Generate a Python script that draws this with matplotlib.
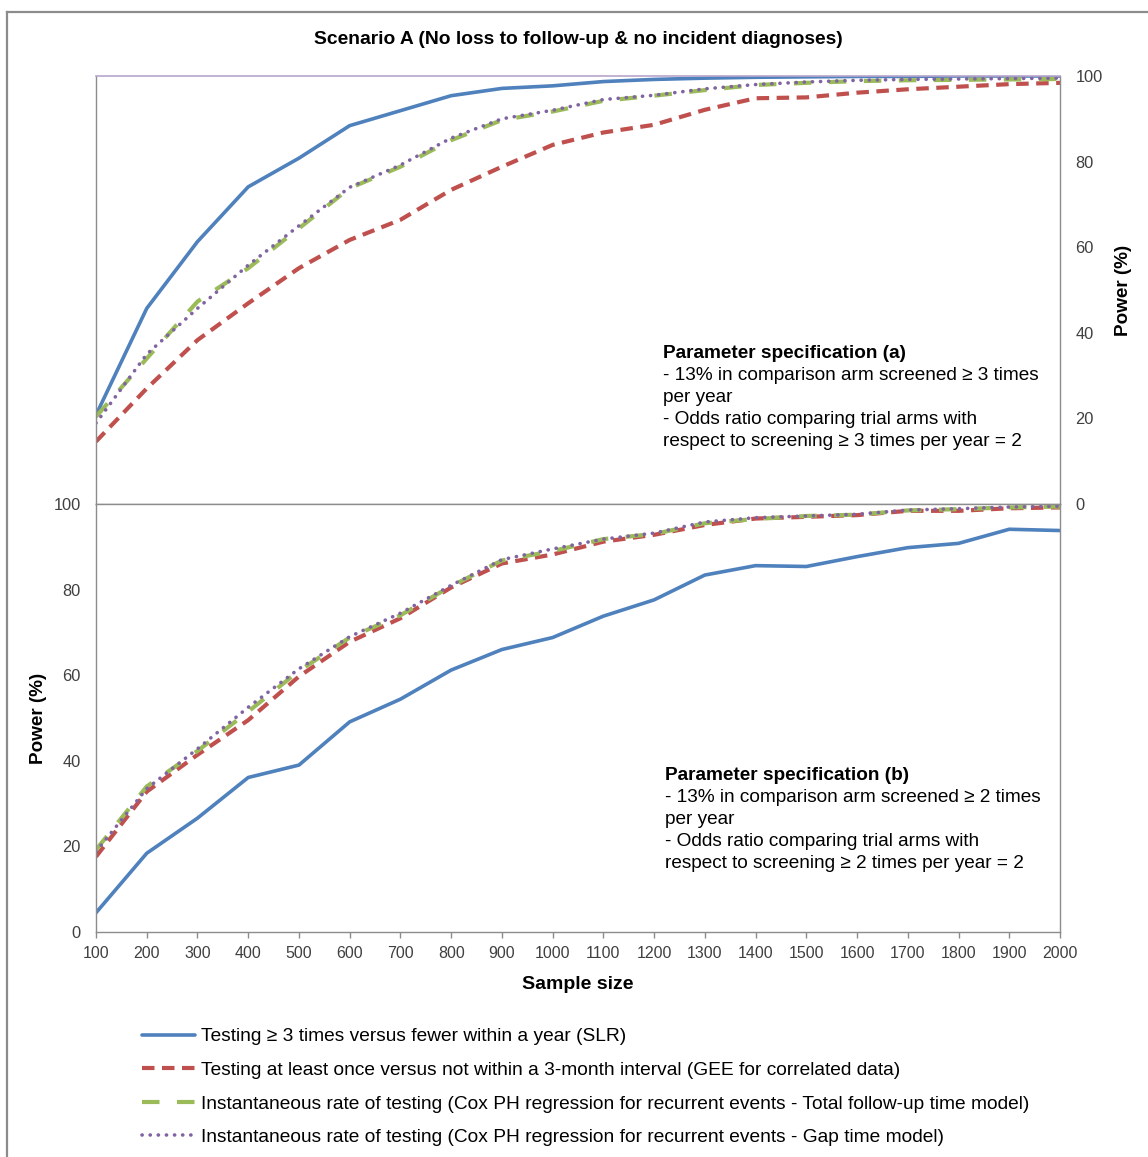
import matplotlib
matplotlib.use("Agg")
import matplotlib.pyplot as plt
from matplotlib.lines import Line2D

plt.rcParams['font.family'] = ['Liberation Sans', 'DejaVu Sans']

# Sample sizes (x axis)
sample_size = [100, 200, 300, 400, 500, 600, 700, 800, 900, 1000,
               1100, 1200, 1300, 1400, 1500, 1600, 1700, 1800, 1900, 2000]

# Parameter specification (a): power (%) by method
a_slr = [20.8, 45.7, 61.3, 74.1, 80.8, 88.4, 91.9, 95.4, 97.1, 97.7,
         98.7, 99.2, 99.5, 99.7, 99.8, 99.9, 99.9, 100.0, 100.0, 100.0]
a_gee = [14.6, 27.0, 38.3, 46.9, 55.1, 61.7, 66.4, 73.4, 78.8, 83.9,
         86.8, 88.6, 92.1, 94.8, 95.0, 96.1, 96.9, 97.5, 98.1, 98.4]
a_cox_total = [20.4, 34.0, 47.3, 55.1, 64.4, 73.8, 78.8, 85.0, 89.7, 91.7,
               94.2, 95.4, 96.7, 97.9, 98.4, 98.8, 99.0, 99.1, 99.2, 99.3]
a_cox_gap = [18.9, 35.0, 45.7, 55.8, 65.0, 74.0, 79.2, 85.5, 90.0, 92.0,
             94.5, 95.5, 97.0, 98.0, 98.6, 99.0, 99.2, 99.3, 99.4, 99.5]

# Parameter specification (b): power (%) by method
b_slr = [4.5, 18.4, 26.6, 36.1, 39.0, 49.1, 54.4, 61.2, 66.0, 68.8,
         73.8, 77.6, 83.4, 85.6, 85.4, 87.7, 89.8, 90.8, 94.1, 93.8]
b_gee = [17.6, 32.8, 41.4, 49.5, 59.7, 67.8, 73.3, 80.5, 86.1, 88.2,
         91.2, 92.8, 95.1, 96.6, 97.0, 97.4, 98.4, 98.4, 99.0, 99.2]
b_cox_total = [19.2, 34.0, 42.3, 51.5, 61.0, 68.8, 74.0, 80.8, 86.8, 89.0,
               91.8, 93.0, 95.5, 96.5, 97.2, 97.5, 98.5, 98.8, 99.2, 99.4]
b_cox_gap = [18.8, 33.5, 42.8, 52.5, 61.5, 69.0, 74.5, 81.0, 87.0, 89.5,
             91.8, 93.2, 95.8, 96.8, 97.2, 97.6, 98.6, 98.9, 99.3, 99.5]

series_labels = [
    "Testing \u2265 3 times versus fewer within a year (SLR)",
    "Testing at least once versus not within a 3-month interval (GEE for correlated data)",
    "Instantaneous rate of testing (Cox PH regression for recurrent events - Total follow-up time model)",
    "Instantaneous rate of testing (Cox PH regression for recurrent events - Gap time model)",
]
y_ticks = [0, 20, 40, 60, 80, 100]

title = "Scenario A (No loss to follow-up & no incident diagnoses)"
spec_a_lines = [
    "Parameter specification (a)",
    "- 13% in comparison arm screened \u2265 3 times",
    "per year",
    "- Odds ratio comparing trial arms with",
    "respect to screening \u2265 3 times per year = 2",
]
spec_b_lines = [
    "Parameter specification (b)",
    "- 13% in comparison arm screened \u2265 2 times",
    "per year",
    "- Odds ratio comparing trial arms with",
    "respect to screening \u2265 2 times per year = 2",
]

BLUE = "#4F81BD"
RED = "#C0504D"
GREEN = "#9BBB59"
PURPLE = "#8064A2"
SPINE = "#8C8C8C"
TICKTXT = "#404040"

styles = [
    dict(color=BLUE, lw=2.6, ls="-", solid_capstyle="round"),
    dict(color=RED, lw=3.0, ls=(0, (3.0, 1.8)), dash_capstyle="butt"),
    dict(color=GREEN, lw=3.0, ls=(0, (4.2, 4.2)), dash_capstyle="butt"),
    dict(color=PURPLE, lw=2.6, ls=(0, (0.05, 2.2)), dash_capstyle="round"),
]

W, H = 1148, 1157
fig = plt.figure(figsize=(W / 100, H / 100), dpi=100)

left, right = 96 / W, 1060 / W
ax_top = fig.add_axes([left, 1 - 504 / H, right - left, (504 - 76) / H])
ax_bot = fig.add_axes([left, 1 - 932 / H, right - left, (932 - 504) / H])

for data, ax in ((
        [a_slr, a_gee, a_cox_total, a_cox_gap], ax_top),
        ([b_slr, b_gee, b_cox_total, b_cox_gap], ax_bot)):
    handles = []
    for vals, st, lab in zip(data, styles, series_labels):
        h, = ax.plot(sample_size, vals, label=lab, **st)
        handles.append(h)
    ax.set_xlim(sample_size[0], sample_size[-1])
    ax.set_ylim(0, 100)
    ax.set_yticks(y_ticks)
    for s in ax.spines.values():
        s.set_color(SPINE)
        s.set_linewidth(1.0)

# top panel: y axis on the right, no x labels
ax_top.yaxis.tick_right()
ax_top.yaxis.set_label_position("right")
ax_top.tick_params(axis="y", length=0, pad=11, labelsize=11.8, labelcolor=TICKTXT)
ax_top.tick_params(axis="x", length=0, labelbottom=False)
ax_top.spines["top"].set_color("#B7A6CC")
ax_top.spines["top"].set_linewidth(1.2)
ax_top.set_ylabel("Power (%)", fontsize=13.6, fontweight="bold", labelpad=9)

# bottom panel
ax_bot.set_xticks(sample_size)
ax_bot.tick_params(axis="y", length=0, pad=11, labelsize=11.8, labelcolor=TICKTXT)
ax_bot.tick_params(axis="x", direction="out", length=4, width=1, color=SPINE,
                   pad=6, labelsize=11.5, labelcolor=TICKTXT)
ax_bot.set_ylabel("Power (%)", fontsize=13.6, fontweight="bold", labelpad=5)
ax_bot.set_xlabel("Sample size", fontsize=14, fontweight="bold", labelpad=11)

# parameter specification notes, one text per line
line_step = 22 / 428
for ax, lines, x0, y0 in ((ax_top, spec_a_lines, 0.588, (504 - 353) / 428),
                          (ax_bot, spec_b_lines, 0.590, (932 - 775) / 428)):
    for i, s in enumerate(lines):
        ax.text(x0, y0 - i * line_step, s, transform=ax.transAxes,
                fontsize=13.7, va="center", ha="left", color="black",
                fontweight="bold" if i == 0 else "normal")

fig.text(578 / W, 1 - 40 / H, title, ha="center", va="center",
         fontsize=13.9, fontweight="bold")

fig.legend(handles=handles, loc="upper left", bbox_to_anchor=(142 / W, 1 - 1028 / H),
           frameon=False, fontsize=13.75, handlelength=2.8, handletextpad=0.3,
           labelspacing=0.85, borderpad=0, borderaxespad=0)

# outer chart frame
fig.add_artist(Line2D([7 / W, 1.0], [1 - 12 / H, 1 - 12 / H],
                      transform=fig.transFigure, color=SPINE, lw=1.6))
fig.add_artist(Line2D([7 / W, 7 / W], [0.0, 1 - 12 / H],
                      transform=fig.transFigure, color=SPINE, lw=1.6))

fig.savefig("out.png", dpi=100)
